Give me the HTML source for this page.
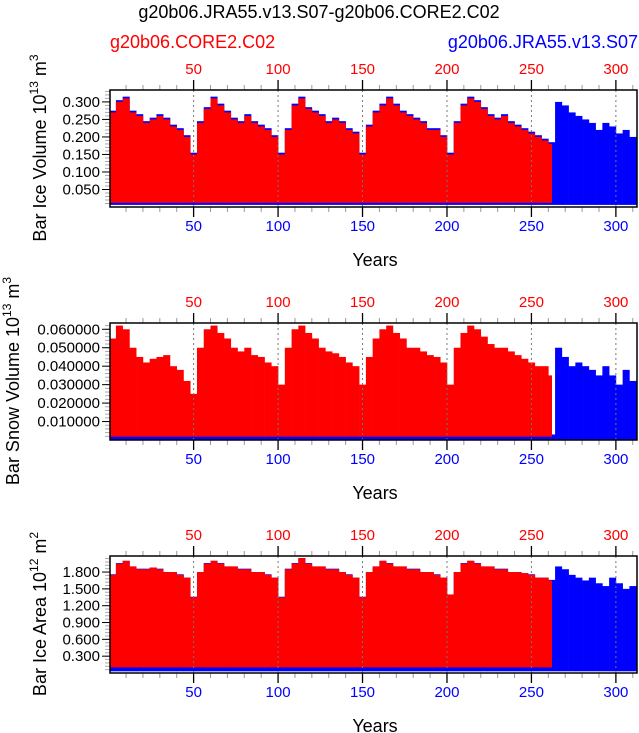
<!DOCTYPE html>
<html><head><meta charset="utf-8"><style>
body{margin:0;background:#fff;width:639px;height:733px;overflow:hidden}
svg{display:block;font-family:"Liberation Sans",sans-serif}
</style></head><body>
<svg id="c" width="639" height="733"></svg>
<script>
// ---- data (4-year blocks starting at year 0) ----
const blockYears = 4;
const redEndYear = 262;
const blueEndYear = 312;
const xTicks = [50, 100, 150, 200, 250, 300];
const iceVolTicks = [0.05, 0.1, 0.15, 0.2, 0.25, 0.3];
const snowTicks = [0.01, 0.02, 0.03, 0.04, 0.05, 0.06];
const areaTicks = [0.3, 0.6, 0.9, 1.2, 1.5, 1.8];
const iceVolRedMax = [.27,.30,.31,.27,.26,.24,.25,.26,.25,.23,.22,.20,.15,
 .24,.28,.31,.29,.27,.25,.24,.26,.24,.23,.22,.20,.15,
 .22,.29,.31,.28,.27,.26,.24,.25,.24,.22,.21,.15,
 .23,.27,.29,.31,.29,.27,.26,.25,.24,.22,.22,.20,.15,
 .24,.29,.31,.30,.28,.26,.25,.26,.24,.23,.22,.21,.20,.19,.18];
const iceVolBlueMax = [.275,.305,.315,.275,.265,.245,.255,.265,.255,.235,.225,.205,.155,
 .245,.285,.315,.295,.275,.255,.245,.265,.245,.235,.225,.205,.155,
 .225,.295,.315,.285,.275,.265,.245,.255,.245,.225,.215,.155,
 .235,.275,.295,.315,.295,.275,.265,.255,.245,.225,.225,.205,.155,
 .245,.295,.315,.305,.285,.265,.255,.265,.245,.235,.225,.215,.205,.195,.185,
 .30,.29,.27,.26,.25,.24,.22,.24,.23,.21,.22,.20];
const iceVolRedMin = 0.012, iceVolBlueMin = 0.006;
const snowRedMax = [.055,.062,.060,.050,.045,.042,.044,.045,.046,.040,.038,.032,.025,
 .050,.060,.062,.058,.055,.050,.048,.050,.046,.045,.042,.040,.030,
 .050,.060,.062,.058,.055,.050,.048,.047,.045,.042,.040,.030,
 .045,.055,.060,.062,.058,.055,.050,.050,.048,.046,.045,.042,.030,
 .050,.058,.062,.060,.056,.052,.050,.050,.048,.046,.044,.042,.040,.040,.035];
const snowBlueMax = [.004,.003,.002,.003,.002,.003,.002,.003,.005,.006,.004,.003,.002,
 .003,.003,.004,.003,.002,.003,.003,.004,.003,.002,.003,.004,.003,
 .003,.002,.003,.004,.003,.002,.003,.004,.003,.002,.003,.002,
 .003,.004,.003,.002,.003,.004,.003,.002,.003,.003,.004,.003,.002,
 .003,.004,.003,.004,.003,.002,.003,.004,.005,.003,.004,.003,.003,.002,.003,
 .050,.045,.040,.042,.040,.038,.035,.040,.035,.030,.038,.032];
const snowRedMin = 0.0018, snowBlueMin = 0.0;
const areaRedMax = [1.75,1.95,2.0,1.9,1.85,1.85,1.88,1.85,1.8,1.8,1.75,1.7,1.35,
 1.8,1.95,2.0,1.95,1.9,1.9,1.85,1.85,1.8,1.8,1.75,1.7,1.35,
 1.85,1.95,2.05,1.95,1.9,1.9,1.85,1.85,1.8,1.75,1.7,1.35,
 1.8,1.9,2.0,1.95,1.9,1.9,1.85,1.85,1.8,1.8,1.75,1.7,1.4,
 1.8,1.95,2.0,1.95,1.9,1.9,1.85,1.85,1.8,1.8,1.78,1.75,1.7,1.7,1.65];
const areaBlueMax = [1.76,1.96,2.0,1.9,1.86,1.86,1.88,1.86,1.8,1.8,1.76,1.7,1.36,
 1.8,1.96,2.0,1.96,1.9,1.9,1.86,1.86,1.8,1.8,1.76,1.7,1.36,
 1.86,1.96,2.05,1.96,1.9,1.9,1.86,1.86,1.8,1.76,1.7,1.36,
 1.8,1.9,2.0,1.96,1.9,1.9,1.86,1.86,1.8,1.8,1.76,1.7,1.4,
 1.8,1.96,2.0,1.96,1.9,1.9,1.86,1.86,1.8,1.8,1.78,1.76,1.7,1.7,1.66,
 1.9,1.85,1.75,1.7,1.65,1.7,1.6,1.55,1.7,1.6,1.5,1.55];
const areaRedMin = 0.1, areaBlueMin = 0.03;

const NS = "http://www.w3.org/2000/svg";
const svg = document.getElementById('c');
function mk(tag, attrs, parent, text){
  const e = document.createElementNS(NS, tag);
  for (const k in attrs) e.setAttribute(k, attrs[k]);
  if (text !== undefined) e.textContent = text;
  (parent || svg).appendChild(e);
  return e;
}
const L = 110, R = 637, X0 = 0.5, X1 = 312.5;
const xs = v => L + (v - X0) / (X1 - X0) * (R - L);

let t = mk('text', {x: 319, y: 18, 'text-anchor': 'middle', 'font-size': 18}, svg, 'g20b06.JRA55.v13.S07-g20b06.CORE2.C02');


t = mk('text', {x: 110, y: 48, 'font-size': 18, fill: '#ff0000'}, svg, 'g20b06.CORE2.C02');


t = mk('text', {x: 638, y: 48, 'text-anchor': 'end', 'font-size': 18, fill: '#0000ff'}, svg, 'g20b06.JRA55.v13.S07');



function panel(name, top, ymin, ymax, ticks, fmt, redMax, blueMax, redMin, blueMin, title, sup, unit, titleX){
  const bot = top + 117;
  const ys = v => bot - (v - ymin) / (ymax - ymin) * (bot - top);
  const g = mk('g', {});
  
  
  const clip = mk('clipPath', {id: 'cl' + top}, g);
  mk('rect', {x: L, y: top, width: R - L, height: 117}, clip);
  const plot = mk('g', {'clip-path': 'url(#cl' + top + ')'}, g);
  blueMax.forEach((v, i) => {
    const a = i * blockYears, b = Math.min(a + blockYears, blueEndYear + 1);
    const r = mk('rect', {x: xs(a), y: ys(v), width: xs(b) - xs(a) + 0.3, height: ys(blueMin) - ys(v), fill: '#0000ff'}, plot);
    
    
  });
  redMax.forEach((v, i) => {
    const a = i * blockYears, b = Math.min(a + blockYears, redEndYear);
    if (b <= a) return;
    const r = mk('rect', {x: xs(a), y: ys(v), width: xs(b) - xs(a) + 0.3, height: ys(redMin) - ys(v), fill: '#ff0000'}, plot);
    
    
  });
  xTicks.forEach(v => mk('line', {x1: xs(v), x2: xs(v), y1: top, y2: bot, stroke: '#777', 'stroke-dasharray': '2,3', 'stroke-width': 1}, plot));
  for (let v = 10; v <= 310; v += 10) {
    if (v % 50 === 0) continue;
    mk('line', {x1: xs(v), x2: xs(v), y1: top, y2: top - 5, stroke: '#999'}, g);
    mk('line', {x1: xs(v), x2: xs(v), y1: bot, y2: bot + 5, stroke: '#999'}, g);
  }
  xTicks.forEach(v => {
    mk('line', {x1: xs(v), x2: xs(v), y1: top, y2: top - 10, stroke: '#000', 'stroke-width': 1.3}, g);
    mk('line', {x1: xs(v), x2: xs(v), y1: bot, y2: bot + 10, stroke: '#000', 'stroke-width': 1.3}, g);
    let l = mk('text', {x: xs(v), y: top - 16, 'text-anchor': 'middle', 'font-size': 15, fill: '#ff0000'}, g, v);
    
    
    l = mk('text', {x: xs(v), y: bot + 24, 'text-anchor': 'middle', 'font-size': 15, fill: '#0000ff'}, g, v);
    
    
  });
  const step = (ticks[1] - ticks[0]) / 5;
  for (let v = ymin + step; v < ymax; v += step) {
    mk('line', {x1: L, x2: L - 5, y1: ys(v), y2: ys(v), stroke: '#aaa'}, g);
  }
  ticks.forEach(v => {
    mk('line', {x1: L, x2: L - 8, y1: ys(v), y2: ys(v), stroke: '#000'}, g);
    const l = mk('text', {x: L - 10, y: ys(v) + 5, 'text-anchor': 'end', 'font-size': 15}, g, fmt(v));
    
    
  });
  mk('rect', {x: L, y: top, width: R - L, height: 117, fill: 'none', stroke: '#000', 'stroke-width': 1.5}, g);
  let yt = mk('text', {x: 375, y: bot + 59, 'text-anchor': 'middle', 'font-size': 18}, g, 'Years');
  
  
  const cy = top + 58;
  const at = mk('text', {transform: `translate(${titleX},${cy}) rotate(-90)`, 'text-anchor': 'middle', 'font-size': 18}, g);
  
  
  mk('tspan', {}, at, title + ' 10');
  mk('tspan', {dy: -8, 'font-size': 12}, at, sup);
  mk('tspan', {dy: 8}, at, ' m');
  mk('tspan', {dy: -8, 'font-size': 12}, at, unit);
}
panel('ice-volume-panel', 90, 0, 0.334, iceVolTicks, v => v.toFixed(3), iceVolRedMax, iceVolBlueMax, iceVolRedMin, iceVolBlueMin, 'Bar Ice Volume', '13', '3', 46);
panel('snow-volume-panel', 323, 0, 0.0634, snowTicks, v => v.toFixed(6), snowRedMax, snowBlueMax, snowRedMin, snowBlueMin, 'Bar Snow Volume', '13', '3', 19);
panel('ice-area-panel', 556, 0, 2.086, areaTicks, v => v.toFixed(3), areaRedMax, areaBlueMax, areaRedMin, areaBlueMin, 'Bar Ice Area', '12', '2', 46);
</script>
</body></html>
